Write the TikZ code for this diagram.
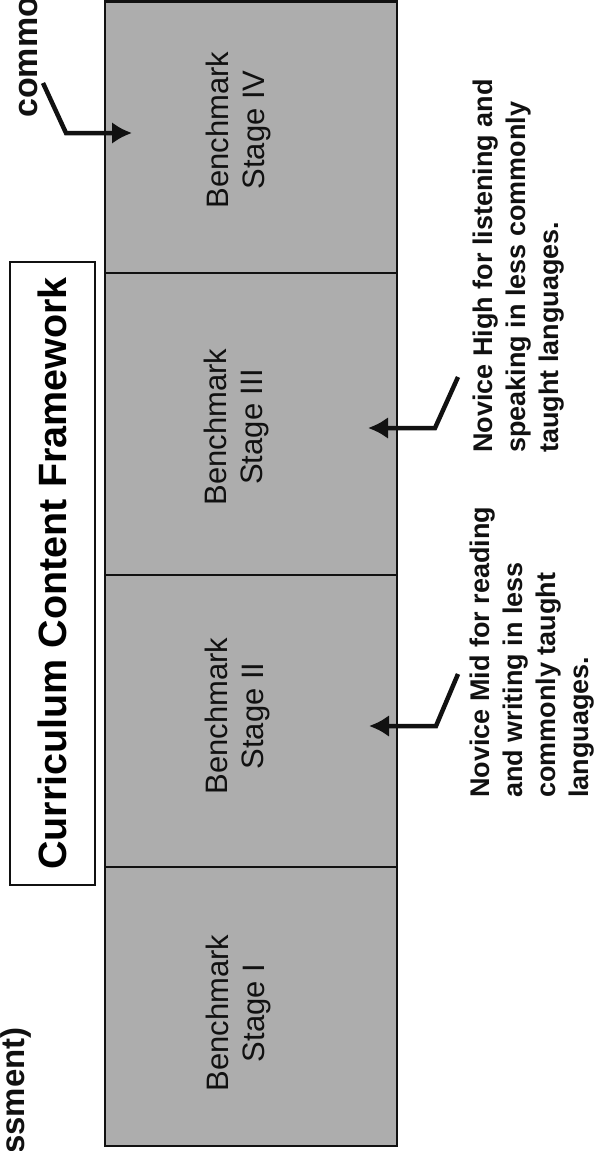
\documentclass[tikz,border=0pt]{standalone}
\usepackage{fontspec}
\setmainfont{Liberation Sans}
\usetikzlibrary{arrows.meta, positioning}
\definecolor{ink}{HTML}{111111}
\definecolor{shade}{HTML}{ADADAD}
\tikzset{
  %
  stage/.style={draw=ink, line width=2.6pt, fill=shade, minimum width=292pt,
                inner sep=0pt},
  framebox/.style={draw=ink, line width=2.2pt, inner sep=0pt, rotate=90,
                   font=\bfseries\fontsize{39.5}{45}\selectfont},
  %
  lbl/.style={rotate=90, align=center, text=ink, inner sep=0pt,
              font=\fontsize{31}{36}\selectfont},
  note/.style={rotate=90, align=left, text=ink, inner sep=0pt,
               anchor=north west, font=\bfseries\fontsize{27}{33}\selectfont},
  cut/.style={rotate=90, text=ink, inner sep=0pt,
              font=\bfseries\fontsize{33}{38}\selectfont},
  %
  pointer/.style={draw=ink, line width=4.5pt, -{Latex[length=20pt, width=22pt]}},
}
\begin{document}
\begin{tikzpicture}[x=1pt, y=1pt]
\useasboundingbox (0,0) rectangle (595,-1151);
\clip (0,0) rectangle (595,-1151);

% ------------------------------------------------------------------ stages
\node[stage, minimum height=271.5pt] (s4) at (251,-137.25) {};
\node[stage, minimum height=302pt]   (s3) at (251,-424) {};
\node[stage, minimum height=292pt]   (s2) at (251,-721) {};
\node[stage, minimum height=279pt]   (s1) at (251,-1006.5) {};

\node[lbl] (l4) at (238,-130)  {Benchmark\\Stage IV};
\node[lbl] (l3) at (236,-427)  {Benchmark\\Stage III};
\node[lbl] (l2) at (237,-716)  {Benchmark\\Stage II};
\node[lbl] (l1) at (238,-1013) {Benchmark\\Stage I};

% ------------------------------------------------------------------- title
\node[framebox, minimum width=623pt, minimum height=85pt] (cf)
  at (52.5,-573.5) {Curriculum Content Framework};

% ------------------------------------------------------------- cut labels
\node[cut, font=\bfseries\fontsize{34}{38}\selectfont, anchor=base west]
  (cm) at (37,-118) {commo};
\node[cut, anchor=base east] (as) at (24,-1027) {ssment)};

% ------------------------------------------------------------------ notes
\node[note] (nh) at (473,-453) {Novice High for listening and\\speaking in less commonly\\taught languages.};
\node[note] (nm) at (470,-798) {Novice Mid for reading\\and writing in less\\commonly taught\\languages.};

% --------------------------------------------------------------- pointers
\coordinate (a4) at (43,-83);
\coordinate (k4) at (66,-133);
\coordinate (t4) at (132,-133);
\coordinate (a3) at (458,-377);
\coordinate (k3) at (435,-428);
\coordinate (t3) at (368,-428);
\coordinate (a2) at (458,-674);
\coordinate (k2) at (436,-726);
\coordinate (t2) at (369,-726);

\draw[pointer] (a4) -- (k4) -- (t4);
\draw[pointer] (a3) -- (k3) -- (t3);
\draw[pointer] (a2) -- (k2) -- (t2);

\end{tikzpicture}
\end{document}
